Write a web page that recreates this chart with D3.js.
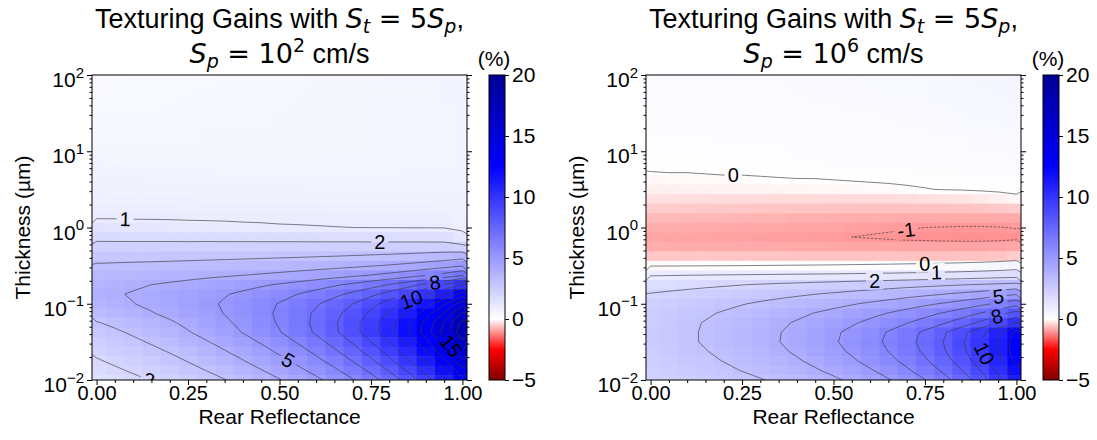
<!DOCTYPE html>
<html>
<head>
<meta charset="utf-8">
<script src="https://cdn.jsdelivr.net/npm/d3@7/dist/d3.min.js"></script>
<style>
  html,body{margin:0;padding:0;background:#fff;}
  svg text{font-family:"Liberation Sans",Arial,sans-serif;fill:#000;}
</style>
</head>
<body>
<svg id="fig" width="1097" height="440" xmlns="http://www.w3.org/2000/svg"></svg>
<script>
// ---------------- DATA ----------------
const reflectance = [0,0.05,0.1,0.15,0.2,0.25,0.3,0.35,0.4,0.45,0.5,0.55,0.6,0.65,0.7,0.75,0.8,0.85,0.9,0.95,1];
// log10(thickness / µm), rows top -> bottom
const thicknessExp = [2,1.875,1.75,1.625,1.5,1.375,1.25,1.125,1,0.875,0.75,0.625,0.5,0.375,0.25,0.125,0,
  -0.125,-0.25,-0.375,-0.5,-0.625,-0.75,-0.875,-1,-1.125,-1.25,-1.375,-1.5,-1.625,-1.75,-1.875,-2];

// Texturing gain (%) for Sp = 1e2 cm/s
const gainSp1e2 = [
[0.30,0.31,0.32,0.33,0.34,0.35,0.36,0.37,0.38,0.39,0.40,0.41,0.42,0.44,0.45,0.46,0.48,0.50,0.51,0.53,0.55],
[0.31,0.32,0.33,0.34,0.34,0.35,0.36,0.37,0.38,0.39,0.40,0.41,0.43,0.44,0.45,0.46,0.48,0.49,0.51,0.53,0.55],
[0.32,0.33,0.33,0.34,0.35,0.36,0.37,0.38,0.39,0.40,0.41,0.42,0.43,0.44,0.45,0.46,0.48,0.49,0.51,0.52,0.54],
[0.33,0.34,0.34,0.35,0.36,0.37,0.37,0.38,0.39,0.40,0.41,0.42,0.43,0.44,0.45,0.46,0.47,0.49,0.50,0.52,0.53],
[0.35,0.35,0.36,0.36,0.37,0.38,0.38,0.39,0.40,0.41,0.42,0.43,0.44,0.45,0.46,0.47,0.48,0.49,0.50,0.51,0.53],
[0.37,0.37,0.38,0.38,0.39,0.39,0.40,0.40,0.41,0.41,0.42,0.43,0.44,0.45,0.46,0.47,0.48,0.49,0.50,0.51,0.52],
[0.40,0.40,0.40,0.41,0.41,0.41,0.42,0.42,0.42,0.43,0.43,0.44,0.44,0.45,0.46,0.47,0.48,0.49,0.50,0.51,0.52],
[0.43,0.43,0.43,0.43,0.43,0.43,0.43,0.43,0.44,0.44,0.44,0.45,0.45,0.46,0.46,0.47,0.48,0.49,0.50,0.51,0.52],
[0.47,0.47,0.46,0.46,0.46,0.45,0.45,0.45,0.45,0.45,0.45,0.46,0.46,0.47,0.47,0.48,0.48,0.49,0.50,0.50,0.52],
[0.52,0.51,0.50,0.50,0.49,0.49,0.48,0.48,0.47,0.47,0.47,0.47,0.48,0.48,0.48,0.49,0.49,0.50,0.50,0.51,0.52],
[0.58,0.57,0.56,0.55,0.54,0.53,0.52,0.51,0.51,0.50,0.50,0.50,0.50,0.50,0.51,0.51,0.51,0.52,0.52,0.52,0.53],
[0.64,0.63,0.62,0.61,0.60,0.59,0.58,0.57,0.56,0.56,0.55,0.55,0.55,0.55,0.55,0.55,0.55,0.55,0.55,0.55,0.55],
[0.72,0.71,0.70,0.69,0.68,0.67,0.66,0.65,0.64,0.63,0.62,0.62,0.61,0.61,0.61,0.60,0.60,0.60,0.60,0.60,0.58],
[0.80,0.79,0.78,0.78,0.77,0.76,0.75,0.74,0.74,0.73,0.72,0.71,0.70,0.70,0.69,0.68,0.68,0.67,0.67,0.66,0.62],
[0.88,0.87,0.87,0.86,0.86,0.85,0.85,0.84,0.84,0.83,0.82,0.82,0.81,0.80,0.79,0.78,0.77,0.77,0.76,0.75,0.68],
[0.97,0.97,0.96,0.96,0.96,0.95,0.95,0.95,0.94,0.94,0.93,0.93,0.92,0.91,0.90,0.89,0.88,0.87,0.86,0.85,0.75],
[1.36,1.31,1.27,1.23,1.19,1.16,1.13,1.10,1.08,1.06,1.04,1.03,1.02,1.01,1.00,0.99,0.99,0.98,0.98,0.97,0.85],
[1.80,1.79,1.78,1.78,1.77,1.76,1.76,1.75,1.74,1.73,1.72,1.71,1.70,1.69,1.68,1.66,1.65,1.64,1.62,1.60,1.25],
[2.24,2.24,2.25,2.25,2.26,2.26,2.27,2.27,2.28,2.28,2.29,2.30,2.30,2.31,2.32,2.32,2.33,2.34,2.35,2.36,2.20],
[2.68,2.69,2.71,2.72,2.74,2.76,2.78,2.80,2.82,2.85,2.88,2.91,2.95,2.99,3.04,3.10,3.16,3.24,3.33,3.45,3.59],
[3.10,3.13,3.16,3.19,3.22,3.26,3.30,3.34,3.39,3.44,3.50,3.57,3.64,3.73,3.82,3.94,4.07,4.22,4.41,4.64,4.93],
[3.45,3.50,3.55,3.61,3.67,3.74,3.82,3.90,3.99,4.09,4.20,4.33,4.47,4.62,4.81,5.02,5.26,5.55,5.91,6.34,6.88],
[3.70,3.79,3.89,4.00,4.11,4.24,4.38,4.53,4.69,4.88,5.08,5.31,5.57,5.86,6.19,6.58,7.03,7.57,8.22,9.01,10.01],
[3.80,3.93,4.06,4.21,4.37,4.54,4.73,4.94,5.17,5.42,5.70,6.01,6.37,6.77,7.23,7.76,8.39,9.12,10.01,11.11,12.48],
[3.65,3.81,3.98,4.17,4.37,4.59,4.83,5.09,5.38,5.70,6.05,6.45,6.90,7.40,7.99,8.66,9.45,10.38,11.50,12.89,14.62],
[3.35,3.54,3.74,3.95,4.19,4.44,4.72,5.03,5.36,5.74,6.15,6.61,7.14,7.73,8.41,9.19,10.11,11.20,12.51,14.13,16.15],
[2.95,3.16,3.39,3.63,3.89,4.18,4.49,4.84,5.22,5.63,6.10,6.62,7.21,7.88,8.64,9.53,10.56,11.78,13.26,15.07,17.35],
[2.65,2.87,3.11,3.36,3.64,3.94,4.27,4.63,5.03,5.47,5.95,6.50,7.12,7.82,8.62,9.55,10.63,11.91,13.46,15.36,17.75],
[2.40,2.61,2.84,3.08,3.34,3.63,3.94,4.29,4.67,5.08,5.55,6.07,6.66,7.33,8.09,8.98,10.01,11.23,12.71,14.52,16.80],
[2.15,2.35,2.56,2.80,3.05,3.32,3.62,3.95,4.31,4.70,5.15,5.64,6.20,6.84,7.56,8.41,9.39,10.55,11.96,13.68,15.85],
[1.93,2.12,2.32,2.54,2.77,3.03,3.31,3.62,3.96,4.34,4.75,5.22,5.75,6.34,7.03,7.82,8.75,9.84,11.17,12.79,14.83],
[1.72,1.89,2.08,2.29,2.51,2.75,3.01,3.29,3.61,3.96,4.35,4.78,5.27,5.83,6.46,7.20,8.06,9.08,10.31,11.82,13.72],
[1.50,1.66,1.84,2.03,2.23,2.46,2.70,2.97,3.26,3.59,3.95,4.36,4.81,5.33,5.93,6.61,7.42,8.37,9.52,10.93,12.70]
];

// Texturing gain (%) for Sp = 1e6 cm/s
const gainSp1e6 = [
[0.25,0.25,0.25,0.26,0.26,0.27,0.27,0.28,0.29,0.30,0.31,0.32,0.33,0.35,0.36,0.38,0.40,0.42,0.44,0.46,0.48],
[0.23,0.23,0.23,0.24,0.24,0.25,0.26,0.26,0.27,0.28,0.29,0.30,0.32,0.33,0.35,0.36,0.38,0.40,0.42,0.44,0.47],
[0.21,0.21,0.22,0.22,0.23,0.23,0.24,0.25,0.26,0.27,0.28,0.29,0.30,0.32,0.33,0.35,0.37,0.39,0.41,0.43,0.45],
[0.19,0.19,0.20,0.20,0.21,0.22,0.22,0.23,0.24,0.25,0.26,0.27,0.28,0.30,0.31,0.33,0.35,0.37,0.39,0.41,0.43],
[0.17,0.17,0.18,0.18,0.19,0.20,0.20,0.21,0.22,0.23,0.24,0.25,0.26,0.28,0.29,0.31,0.33,0.35,0.37,0.39,0.41],
[0.15,0.15,0.16,0.16,0.17,0.18,0.18,0.19,0.20,0.21,0.22,0.23,0.24,0.26,0.27,0.29,0.30,0.32,0.34,0.36,0.38],
[0.13,0.13,0.14,0.14,0.15,0.16,0.16,0.17,0.18,0.19,0.20,0.21,0.22,0.23,0.25,0.26,0.28,0.29,0.31,0.33,0.35],
[0.11,0.11,0.12,0.12,0.13,0.13,0.14,0.15,0.16,0.17,0.18,0.19,0.20,0.21,0.22,0.23,0.24,0.26,0.28,0.30,0.32],
[0.08,0.09,0.09,0.10,0.10,0.11,0.12,0.12,0.13,0.14,0.15,0.16,0.17,0.18,0.19,0.20,0.21,0.23,0.24,0.26,0.28],
[0.06,0.07,0.07,0.08,0.08,0.09,0.10,0.10,0.11,0.12,0.13,0.14,0.15,0.16,0.17,0.18,0.19,0.20,0.21,0.22,0.24],
[0.01,0.02,0.02,0.03,0.04,0.04,0.05,0.06,0.06,0.07,0.08,0.09,0.10,0.11,0.12,0.13,0.14,0.15,0.16,0.17,0.18],
[-0.07,-0.06,-0.06,-0.05,-0.04,-0.04,-0.03,-0.02,-0.01,-0.01,0.00,0.01,0.02,0.03,0.04,0.05,0.07,0.08,0.09,0.10,0.12],
[-0.15,-0.15,-0.14,-0.14,-0.13,-0.12,-0.12,-0.11,-0.10,-0.09,-0.08,-0.07,-0.06,-0.05,-0.03,-0.01,0.01,0.02,0.04,0.06,0.08],
[-0.30,-0.31,-0.32,-0.33,-0.34,-0.35,-0.35,-0.36,-0.36,-0.36,-0.36,-0.36,-0.35,-0.34,-0.33,-0.31,-0.29,-0.26,-0.22,-0.16,-0.08],
[-0.50,-0.51,-0.52,-0.53,-0.54,-0.55,-0.56,-0.57,-0.58,-0.58,-0.59,-0.60,-0.60,-0.61,-0.61,-0.61,-0.60,-0.59,-0.57,-0.54,-0.50],
[-0.68,-0.69,-0.70,-0.71,-0.72,-0.73,-0.74,-0.75,-0.76,-0.77,-0.78,-0.79,-0.80,-0.81,-0.82,-0.83,-0.84,-0.84,-0.84,-0.83,-0.82],
[-0.80,-0.81,-0.82,-0.83,-0.84,-0.85,-0.86,-0.87,-0.88,-0.89,-0.90,-0.92,-0.94,-0.96,-0.98,-1.00,-1.01,-1.02,-1.02,-1.01,-0.99],
[-0.88,-0.89,-0.89,-0.90,-0.91,-0.92,-0.93,-0.94,-0.95,-0.96,-0.98,-1.00,-1.02,-1.04,-1.06,-1.07,-1.08,-1.09,-1.09,-1.08,-1.06],
[-0.80,-0.80,-0.81,-0.81,-0.82,-0.82,-0.83,-0.83,-0.84,-0.84,-0.85,-0.86,-0.86,-0.87,-0.88,-0.88,-0.89,-0.89,-0.89,-0.88,-0.85],
[-0.55,-0.55,-0.56,-0.56,-0.57,-0.57,-0.58,-0.58,-0.59,-0.59,-0.60,-0.60,-0.61,-0.61,-0.62,-0.62,-0.62,-0.61,-0.60,-0.57,-0.50],
[-0.05,-0.04,-0.03,-0.02,-0.01,0.00,0.01,0.02,0.03,0.04,0.05,0.07,0.09,0.11,0.14,0.17,0.21,0.26,0.33,0.42,0.55],
[0.95,0.97,0.99,1.01,1.03,1.05,1.07,1.09,1.11,1.13,1.15,1.18,1.21,1.24,1.28,1.32,1.37,1.42,1.48,1.55,1.62],
[1.60,1.68,1.75,1.83,1.90,1.98,2.06,2.14,2.21,2.29,2.37,2.45,2.53,2.61,2.70,2.78,2.87,2.96,3.05,3.15,3.25],
[2.05,2.15,2.25,2.35,2.45,2.55,2.66,2.77,2.88,3.00,3.12,3.25,3.38,3.52,3.67,3.83,4.00,4.20,4.41,4.66,4.95],
[2.30,2.43,2.56,2.69,2.82,2.96,3.11,3.26,3.41,3.58,3.75,3.93,4.13,4.33,4.56,4.81,5.08,5.39,5.74,6.15,6.65],
[2.43,2.58,2.74,2.90,3.07,3.24,3.42,3.61,3.81,4.03,4.25,4.49,4.75,5.03,5.34,5.68,6.07,6.51,7.02,7.62,8.36],
[2.52,2.69,2.86,3.04,3.22,3.42,3.63,3.85,4.08,4.33,4.60,4.89,5.21,5.57,5.96,6.40,6.90,7.48,8.17,8.99,10.00],
[2.55,2.71,2.89,3.07,3.27,3.48,3.71,3.96,4.23,4.52,4.85,5.21,5.61,6.07,6.58,7.18,7.86,8.67,9.64,10.82,12.30],
[2.53,2.70,2.88,3.07,3.27,3.49,3.72,3.98,4.26,4.56,4.90,5.27,5.69,6.16,6.69,7.30,8.01,8.85,9.85,11.07,12.60],
[2.47,2.63,2.79,2.97,3.16,3.37,3.60,3.85,4.12,4.42,4.75,5.12,5.54,6.01,6.54,7.16,7.88,8.74,9.76,11.02,12.60],
[2.40,2.54,2.69,2.85,3.02,3.21,3.42,3.65,3.91,4.19,4.51,4.87,5.27,5.73,6.25,6.86,7.58,8.43,9.45,10.71,12.30],
[2.32,2.43,2.56,2.70,2.85,3.02,3.20,3.41,3.64,3.91,4.20,4.53,4.91,5.35,5.86,6.45,7.14,7.97,8.98,10.23,11.80],
[2.22,2.31,2.41,2.52,2.65,2.79,2.95,3.14,3.34,3.58,3.85,4.16,4.51,4.93,5.41,5.97,6.64,7.45,8.43,9.65,11.20]
];

const contourLevels = [-1,0,1,2,3,4,5,6,7,8,9,10,11,12,13,14,15,16,17,18,19,20];
const xTickValues = [0,0.25,0.5,0.75,1];
const xMinorValues = [0.05,0.1,0.15,0.2,0.3,0.35,0.4,0.45,0.55,0.6,0.65,0.7,0.8,0.85,0.9,0.95];
const yTickExps = [2,1,0,-1,-2];
const cbarTicks = [20,15,10,5,0,-5];
const spExponents = ["2","6"];
// contour label anchors: level, reflectance, log10(thickness)
const labelsSp1e2 = [
  {level:1,x:0.078,t:0.10},{level:2,x:0.774,t:-0.186},{level:8,x:0.925,t:-0.73},
  {level:10,x:0.864,t:-0.995},{level:15,x:0.961,t:-1.585},{level:5,x:0.524,t:-1.74},{level:2,x:0.178,t:-1.96}];
const labelsSp1e6 = [
  {level:0,x:0.226,t:0.689},{level:-1,x:0.698,t:0.0},{level:0,x:0.749,t:-0.457},
  {level:1,x:0.781,t:-0.588},{level:2,x:0.613,t:-0.80},{level:5,x:0.95,t:-0.885},
  {level:8,x:0.945,t:-1.147},{level:10,x:0.932,t:-1.607}];

// ---------------- STYLE / LAYOUT ----------------
// diverging red-white-blue map (white at 0), colorbar shown from -5 to 20
const color = d3.scaleLinear()
  .domain([-5,-2.5,0,12.5,25])
  .range(["#800000","#ff0000","#ffffff","#0000ff","#00004d"])
  .interpolate(d3.interpolateRgb).clamp(true);
const PT = 75, PB = 380, PW = 375;
const MATH = "'DejaVu Sans', sans-serif";
const svg = d3.select("#fig");
const defs = svg.append("defs");

function drawPanel(idx, x0, values, labels, cbX, spExp) {
  const xs = d3.scaleLinear().domain([-0.0125, 1.0125]).range([x0, x0 + PW]);
  const ys = d3.scaleLog().domain([1e-2, 1e2]).range([PB, PT]);
  const clipId = "clip" + idx, maskId = "mask" + idx;
  defs.append("clipPath").attr("id", clipId)
    .append("rect").attr("x", x0).attr("y", PT).attr("width", PW).attr("height", PB - PT);

  const g = svg.append("g");
  const dx = reflectance[1] - reflectance[0];
  const dy = thicknessExp[1] - thicknessExp[0];

  // heatmap cells
  const cells = [];
  values.forEach((row, j) => row.forEach((v, i) => cells.push({i, j, v})));
  g.append("g").attr("clip-path", `url(#${clipId})`)
    .selectAll("rect").data(cells).join("rect")
    .attr("x", d => xs(reflectance[d.i] - dx / 2))
    .attr("width", d => xs(reflectance[d.i] + dx / 2) - xs(reflectance[d.i] - dx / 2) + 0.6)
    .attr("y", d => ys(Math.pow(10, thicknessExp[d.j] - dy / 2)))
    .attr("height", d => ys(Math.pow(10, thicknessExp[d.j] + dy / 2)) - ys(Math.pow(10, thicknessExp[d.j] - dy / 2)) + 0.6)
    .attr("fill", d => color(d.v));

  // contours
  const nx = reflectance.length, ny = thicknessExp.length;
  const cs = d3.contours().size([nx, ny]).thresholds(contourLevels)(values.flat());
  const toPx = p => [xs(reflectance[0] + (p[0] - 0.5) * dx), ys(Math.pow(10, thicknessExp[0] + (p[1] - 0.5) * dy))];
  const ringsByLevel = new Map();
  cs.forEach(c => {
    const rings = [];
    c.coordinates.forEach(poly => poly.forEach(ring => rings.push(ring.map(toPx))));
    ringsByLevel.set(c.value, rings);
  });

  const mask = defs.append("mask").attr("id", maskId).attr("maskUnits", "userSpaceOnUse")
    .attr("x", 0).attr("y", 0).attr("width", 1097).attr("height", 440);
  mask.append("rect").attr("x", 0).attr("y", 0).attr("width", 1097).attr("height", 440).attr("fill", "white");

  const cg = g.append("g").attr("clip-path", `url(#${clipId})`).append("g").attr("mask", `url(#${maskId})`);
  ringsByLevel.forEach((rings, lev) => {
    rings.forEach(r => {
      if (r.length < 2) return;
      cg.append("path")
        .attr("d", "M" + r.map(p => p[0].toFixed(2) + "," + p[1].toFixed(2)).join("L") + "Z")
        .attr("fill", "none").attr("stroke", "#3a3a3a").attr("stroke-width", 0.75)
        .attr("stroke-opacity", 0.85)
        .attr("stroke-dasharray", lev < 0 ? "2.5,1.5" : null);
    });
  });

  // contour labels
  const lg = g.append("g").attr("clip-path", `url(#${clipId})`);
  labels.forEach(lb => {
    const rings = ringsByLevel.get(lb.level) || [];
    const T = [xs(lb.x), ys(Math.pow(10, lb.t))];
    let best = null, bd = Infinity;
    rings.forEach(r => {
      for (let k = 0; k < r.length - 1; k++) {
        const a = r[k], b = r[k + 1];
        const mx = (a[0] + b[0]) / 2, my = (a[1] + b[1]) / 2;
        if (mx < x0 + 0.5 || mx > x0 + PW - 0.5 || my < PT + 0.5 || my > PB - 0.5) continue;
        const vx = b[0] - a[0], vy = b[1] - a[1];
        const L2 = vx * vx + vy * vy || 1e-9;
        let u = ((T[0] - a[0]) * vx + (T[1] - a[1]) * vy) / L2;
        u = Math.max(0, Math.min(1, u));
        const px = a[0] + u * vx, py = a[1] + u * vy;
        const d2 = (px - T[0]) ** 2 + (py - T[1]) ** 2;
        if (d2 < bd) { bd = d2; best = {px, py, vx, vy}; }
      }
    });
    if (!best) return;
    let ang = Math.atan2(best.vy, best.vx) * 180 / Math.PI;
    if (ang > 90) ang -= 180;
    if (ang < -90) ang += 180;
    const txt = lg.append("text")
      .attr("transform", `translate(${best.px},${best.py}) rotate(${ang})`)
      .attr("text-anchor", "middle").attr("dominant-baseline", "central")
      .attr("font-size", 20).text(String(lb.level));
    const w = txt.node().getComputedTextLength();
    mask.append("rect").attr("x", -w / 2 - 3).attr("y", -9).attr("width", w + 6).attr("height", 18)
      .attr("fill", "black").attr("transform", `translate(${best.px},${best.py}) rotate(${ang})`);
  });

  // frame
  g.append("rect").attr("x", x0).attr("y", PT).attr("width", PW).attr("height", PB - PT)
    .attr("fill", "none").attr("stroke", "#000").attr("stroke-width", 1);

  // x axis
  const axB = g.append("g").attr("transform", `translate(0,${PB})`)
    .call(d3.axisBottom(xs).tickValues(xTickValues).tickSize(5).tickPadding(1).tickFormat(d3.format(".2f")));
  axB.select(".domain").remove();
  axB.attr("font-size", 20).attr("font-family", null);
  const axBm = g.append("g").attr("transform", `translate(0,${PB})`)
    .call(d3.axisBottom(xs).tickValues(xMinorValues).tickSize(3).tickFormat(""));
  axBm.select(".domain").remove();

  // y axes (left with labels, right mirrored)
  const minorY = ys.ticks().filter(v => Math.abs(Math.log10(v) - Math.round(Math.log10(v))) > 1e-6);
  const majorY = yTickExps.map(e => Math.pow(10, e));
  [["left", x0], ["right", x0 + PW]].forEach(([side, xp]) => {
    const mk = side === "left" ? d3.axisLeft : d3.axisRight;
    const a1 = g.append("g").attr("transform", `translate(${xp},0)`)
      .call(mk(ys).tickValues(majorY).tickSize(5).tickFormat(""));
    a1.select(".domain").remove();
    const a2 = g.append("g").attr("transform", `translate(${xp},0)`)
      .call(mk(ys).tickValues(minorY).tickSize(2.5).tickFormat(""));
    a2.select(".domain").remove();
  });
  yTickExps.forEach(e => {
    const t = g.append("text").attr("x", x0 - 8).attr("y", ys(Math.pow(10, e)) + 12)
      .attr("text-anchor", "end").attr("font-size", 21);
    t.append("tspan").text("10");
    t.append("tspan").attr("font-size", 15).attr("dy", -9.5).text(e < 0 ? "\u2212" + (-e) : String(e));
  });

  // axis labels
  g.append("text").attr("x", x0 + PW / 2).attr("y", 424).attr("text-anchor", "middle")
    .attr("font-size", 21).text("Rear Reflectance");
  g.append("text").attr("transform", `translate(${x0 - 62},${(PT + PB) / 2}) rotate(-90)`)
    .attr("text-anchor", "middle").attr("font-size", 21).text("Thickness (\u00b5m)");

  // title
  const cx = x0 + PW / 2;
  const t1 = g.append("text").attr("x", cx).attr("y", 28).attr("text-anchor", "middle").attr("font-size", 27);
  t1.append("tspan").text("Texturing Gains with ");
  t1.append("tspan").style("font-family", MATH).style("font-style", "italic").text("S");
  t1.append("tspan").style("font-family", MATH).style("font-style", "italic").attr("font-size", 19).attr("dy", 5).text("t");
  t1.append("tspan").style("font-family", MATH).attr("dy", -5).text("\u00a0=\u00a05");
  t1.append("tspan").style("font-family", MATH).style("font-style", "italic").text("S");
  t1.append("tspan").style("font-family", MATH).style("font-style", "italic").attr("font-size", 19).attr("dy", 5).text("p");
  t1.append("tspan").attr("dy", -5).text(",");
  const t2 = g.append("text").attr("x", cx).attr("y", 63).attr("text-anchor", "middle").attr("font-size", 27);
  t2.append("tspan").style("font-family", MATH).style("font-style", "italic").text("S");
  t2.append("tspan").style("font-family", MATH).style("font-style", "italic").attr("font-size", 19).attr("dy", 5).text("p");
  t2.append("tspan").style("font-family", MATH).attr("dy", -5).text("\u00a0=\u00a010");
  t2.append("tspan").style("font-family", MATH).attr("font-size", 19).attr("dy", -11).text(spExp);
  t2.append("tspan").attr("dy", 11).text("\u00a0cm/s");

  // colorbar
  const cbW = 16;
  const cbs = d3.scaleLinear().domain([-5, 20]).range([PB, PT]);
  const grad = defs.append("linearGradient").attr("id", "cbg" + idx)
    .attr("x1", 0).attr("y1", 0).attr("x2", 0).attr("y2", 1);
  [20, 17.5, 15, 12.5, 10, 7.5, 5, 2.5, 0, -1.25, -2.5, -3.75, -5].forEach(v => {
    grad.append("stop").attr("offset", (20 - v) / 25).attr("stop-color", color(v));
  });
  g.append("rect").attr("x", cbX).attr("y", PT).attr("width", cbW).attr("height", PB - PT)
    .attr("fill", `url(#cbg${idx})`).attr("stroke", "#000").attr("stroke-width", 1);
  const cba = g.append("g").attr("transform", `translate(${cbX + cbW},0)`)
    .call(d3.axisRight(cbs).tickValues(cbarTicks).tickSize(4).tickPadding(3)
      .tickFormat(d => d < 0 ? "\u2212" + (-d) : String(d)));
  cba.select(".domain").remove();
  cba.attr("font-size", 21).attr("font-family", null);
  g.append("text").attr("x", cbX + 5).attr("y", 66).attr("text-anchor", "middle")
    .attr("font-size", 21).text("(%)");
}

drawPanel(0, 92, gainSp1e2, labelsSp1e2, 489, spExponents[0]);
drawPanel(1, 646, gainSp1e6, labelsSp1e6, 1043, spExponents[1]);
</script>
</body>
</html>
